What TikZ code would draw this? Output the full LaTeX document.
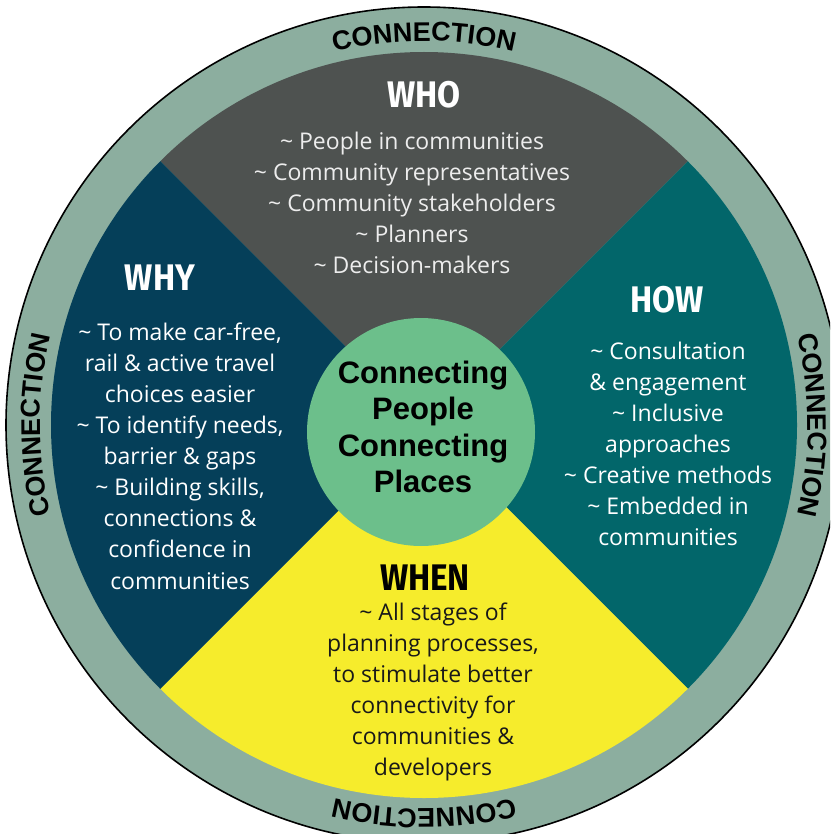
\documentclass[tikz,border=0pt]{standalone}
\usepackage{fontspec}
\usetikzlibrary{decorations.text}
\setmainfont{Open Sans}
\newfontfamily\headfont[FakeStretch=0.9]{Fira Sans}
\newfontfamily\ringfont[LetterSpace=4]{Liberation Sans}
\newfontfamily\hubfont{Liberation Sans}
\newcommand{\tld}{\textasciitilde\ }
\newcommand{\ringstyle}{\ringfont\bfseries\fontsize{27}{27}\selectfont}
\definecolor{ringc}{HTML}{8CAE9F}
\definecolor{whoc}{HTML}{4E5250}
\definecolor{whyc}{HTML}{053F59}
\definecolor{howc}{HTML}{02666A}
\definecolor{whenc}{HTML}{F6EC2C}
\definecolor{hubc}{HTML}{6CBF8B}
\definecolor{whotext}{HTML}{EDEDED}
\tikzset{
  heading/.style={font=\headfont\bfseries\fontsize{37}{37}\selectfont, inner sep=0pt},
  bodytext/.style={font=\fontsize{23}{31.1}\selectfont, align=center, inner sep=0pt},
  hubtext/.style={font=\hubfont\bfseries\fontsize{31}{36.5}\selectfont, align=center, inner sep=0pt, text=black},
  ringtext/.style={decorate, decoration={text along path, text align=center, text={|\ringstyle|CONNECTION}}}
}
\begin{document}
\begin{tikzpicture}[x=1pt,y=-1pt]
\useasboundingbox (0,0) rectangle (830,834);
\clip (0,0) rectangle (830,834);
\fill[white] (0,0) rectangle (830,834);
\coordinate (C) at (424,425);
% outer ring
\fill[ringc, draw=black, line width=1.6pt] (C) circle[radius=418];
% sectors
\begin{scope}
  \clip (C) circle[radius=373];
  \fill[whoc]  (C) -- ++(-500,-500) -- ++(1000,0) -- cycle;
  \fill[howc]  (C) -- ++(500,-500) -- ++(0,1000) -- cycle;
  \fill[whenc] (C) -- ++(500,500) -- ++(-1000,0) -- cycle;
  \fill[whyc]  (C) -- ++(-500,500) -- ++(0,-1000) -- cycle;
\end{scope}
% ring labels
\begin{scope}[shift={(C)}, y=1pt]
  \path[ringtext] (180:384) arc[start angle=180, end angle=0, radius=384];
  \path[ringtext] (90:384) arc[start angle=90, end angle=-90, radius=384];
  \path[ringtext] (0:384) arc[start angle=0, end angle=-180, radius=384];
  \path[ringtext] (-90:384) arc[start angle=-90, end angle=-270, radius=384];
\end{scope}
% hub
\node[circle, fill=hubc, minimum size=228pt, inner sep=0pt] (hub) at (421,432) {};
\node[hubtext] (hubtxt) at (423,427) {Connecting\\People\\Connecting\\Places};
% headings
\node[heading, text=white] (who) at (424,95) {WHO};
\node[heading, text=white] (why) at (160,278) {WHY};
\node[heading, text=white] (how) at (667,300) {HOW};
\node[heading, text=black] (when) at (425,578) {WHEN};
% body texts
\node[bodytext, text=whotext] (whotxt) at (412,203) {\tld People in communities\\\tld Community representatives\\\tld Community stakeholders\\\tld Planners\\\tld Decision-makers};
\node[bodytext, text=white] (whytxt) at (180,456) {\tld To make car-free,\\rail \& active travel\\choices easier\\\tld To identify needs,\\barrier \& gaps\\\tld Building skills,\\connections \&\\confidence in\\communities};
\node[bodytext, text=white] (howtxt) at (668,444) {\tld Consultation\\\& engagement\\\tld Inclusive\\approaches\\\tld Creative methods\\\tld Embedded in\\communities};
\node[bodytext, text=black!90] (whentxt) at (433,692) {\tld All stages of\\planning processes,\\to stimulate better\\connectivity for\\communities \&\\developers};
\end{tikzpicture}
\end{document}
